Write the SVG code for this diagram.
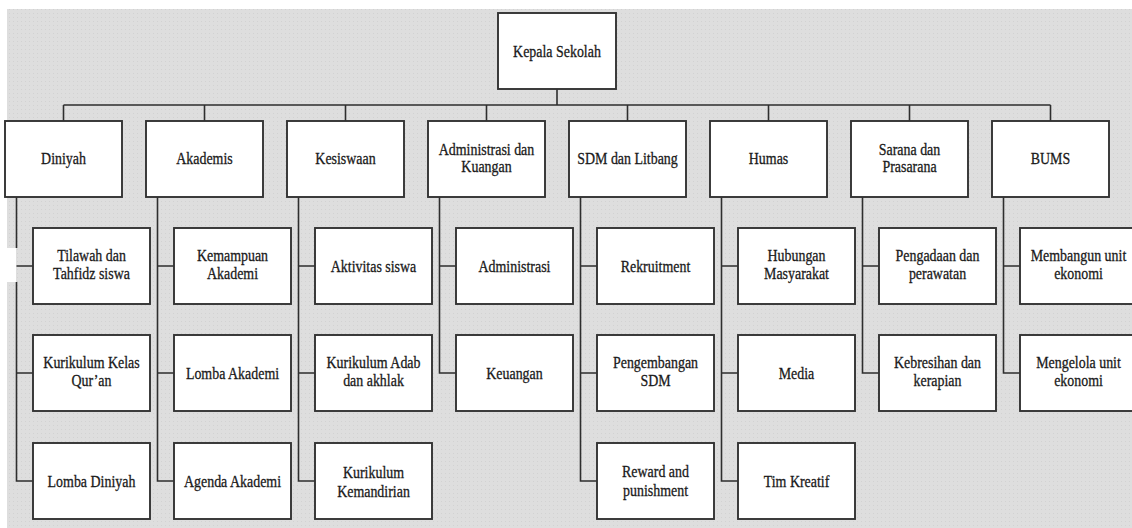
<svg xmlns="http://www.w3.org/2000/svg" width="1132" height="528" viewBox="0 0 1132 528">
<style>
.box{fill:#fff;stroke:#333;stroke-width:1.9}
.ln{stroke:#2e2e2e;stroke-width:1.6;fill:none}
.t{font-family:"Liberation Serif","Times New Roman",serif;font-size:17px;fill:#1a1a1a;stroke:#1a1a1a;stroke-width:0.3;text-anchor:middle}
</style>
<defs>
<pattern id="dots" width="4" height="4" patternUnits="userSpaceOnUse">
<rect width="4" height="4" fill="#dedede"/>
<rect x="1" y="1" width="1" height="1" fill="#d2d2d2"/>
</pattern>
</defs>
<rect width="1132" height="528" fill="#fff"/>
<rect x="7" y="9" width="1125" height="519" fill="url(#dots)"/>
<rect x="0" y="248" width="16" height="34" fill="#fff"/>

<g id="connectors">
<path class="ln" d="M557 89V105M63.5 105H1050.5"/>
<path class="ln" d="M63.5 105V121M204.5 105V121M345.5 105V121M486.5 105V121M627.5 105V121M768.5 105V121M909.5 105V121M1050.5 105V121"/>
<path class="ln" d="M16.5 197V248M16.5 282V481H33M16.5 266H33M16.5 373H33"/>
<path class="ln" d="M157.5 197V481H174M157.5 266H174M157.5 373H174"/>
<path class="ln" d="M298.5 197V481H315M298.5 266H315M298.5 373H315"/>
<path class="ln" d="M439.5 197V373H456M439.5 266H456"/>
<path class="ln" d="M580.5 197V481H597M580.5 266H597M580.5 373H597"/>
<path class="ln" d="M721.5 197V481H738M721.5 266H738M721.5 373H738"/>
<path class="ln" d="M862.5 197V373H879M862.5 266H879"/>
<path class="ln" d="M1003.5 197V373H1020M1003.5 266H1020"/>
</g>

<g id="kepala-sekolah"><rect class="box" x="498" y="13" width="118" height="76"/><text class="t" transform="translate(557,57) scale(0.82,1)">Kepala Sekolah</text></g>

<g id="diniyah"><rect class="box" x="5" y="121" width="117" height="76"/><text class="t" transform="translate(63.5,164) scale(0.82,1)">Diniyah</text></g>
<g id="akademis"><rect class="box" x="146" y="121" width="117" height="76"/><text class="t" transform="translate(204.5,164) scale(0.82,1)">Akademis</text></g>
<g id="kesiswaan"><rect class="box" x="287" y="121" width="117" height="76"/><text class="t" transform="translate(345.5,164) scale(0.82,1)">Kesiswaan</text></g>
<g id="administrasi-kuangan"><rect class="box" x="428" y="121" width="117" height="76"/><text class="t" transform="translate(486.5,155) scale(0.82,1)"><tspan x="0">Administrasi dan</tspan><tspan x="0" dy="17">Kuangan</tspan></text></g>
<g id="sdm-litbang"><rect class="box" x="569" y="121" width="117" height="76"/><text class="t" transform="translate(627.5,164) scale(0.82,1)">SDM dan Litbang</text></g>
<g id="humas"><rect class="box" x="710" y="121" width="117" height="76"/><text class="t" transform="translate(768.5,164) scale(0.82,1)">Humas</text></g>
<g id="sarana-prasarana"><rect class="box" x="851" y="121" width="117" height="76"/><text class="t" transform="translate(909.5,155) scale(0.82,1)"><tspan x="0">Sarana dan</tspan><tspan x="0" dy="17">Prasarana</tspan></text></g>
<g id="bums"><rect class="box" x="992" y="121" width="117" height="76"/><text class="t" transform="translate(1050.5,164) scale(0.82,1)">BUMS</text></g>

<g id="tilawah"><rect class="box" x="33" y="228" width="117" height="76"/><text class="t" transform="translate(91.5,261) scale(0.82,1)"><tspan x="0">Tilawah dan</tspan><tspan x="0" dy="18">Tahfidz siswa</tspan></text></g>
<g id="kurikulum-kelas"><rect class="box" x="33" y="335" width="117" height="76"/><text class="t" transform="translate(91.5,368) scale(0.82,1)"><tspan x="0">Kurikulum Kelas</tspan><tspan x="0" dy="18">Qur’an</tspan></text></g>
<g id="lomba-diniyah"><rect class="box" x="33" y="443" width="117" height="76"/><text class="t" transform="translate(91.5,487) scale(0.82,1)">Lomba Diniyah</text></g>

<g id="kemampuan"><rect class="box" x="174" y="228" width="117" height="76"/><text class="t" transform="translate(232.5,261) scale(0.82,1)"><tspan x="0">Kemampuan</tspan><tspan x="0" dy="18">Akademi</tspan></text></g>
<g id="lomba-akademi"><rect class="box" x="174" y="335" width="117" height="76"/><text class="t" transform="translate(232.5,379) scale(0.82,1)">Lomba Akademi</text></g>
<g id="agenda-akademi"><rect class="box" x="174" y="443" width="117" height="76"/><text class="t" transform="translate(232.5,487) scale(0.82,1)">Agenda Akademi</text></g>

<g id="aktivitas"><rect class="box" x="315" y="228" width="117" height="76"/><text class="t" transform="translate(373.5,272) scale(0.82,1)">Aktivitas siswa</text></g>
<g id="kurikulum-adab"><rect class="box" x="315" y="335" width="117" height="76"/><text class="t" transform="translate(373.5,368) scale(0.82,1)"><tspan x="0">Kurikulum Adab</tspan><tspan x="0" dy="18">dan akhlak</tspan></text></g>
<g id="kurikulum-kemandirian"><rect class="box" x="315" y="443" width="117" height="76"/><text class="t" transform="translate(373.5,478) scale(0.82,1)"><tspan x="0">Kurikulum</tspan><tspan x="0" dy="19">Kemandirian</tspan></text></g>

<g id="administrasi"><rect class="box" x="456" y="228" width="117" height="76"/><text class="t" transform="translate(514.5,272) scale(0.82,1)">Administrasi</text></g>
<g id="keuangan"><rect class="box" x="456" y="335" width="117" height="76"/><text class="t" transform="translate(514.5,379) scale(0.82,1)">Keuangan</text></g>

<g id="rekruitment"><rect class="box" x="597" y="228" width="117" height="76"/><text class="t" transform="translate(655.5,272) scale(0.82,1)">Rekruitment</text></g>
<g id="pengembangan"><rect class="box" x="597" y="335" width="117" height="76"/><text class="t" transform="translate(655.5,368) scale(0.82,1)"><tspan x="0">Pengembangan</tspan><tspan x="0" dy="18">SDM</tspan></text></g>
<g id="reward"><rect class="box" x="597" y="443" width="117" height="76"/><text class="t" transform="translate(655.5,477) scale(0.82,1)"><tspan x="0">Reward and</tspan><tspan x="0" dy="19">punishment</tspan></text></g>

<g id="hubungan"><rect class="box" x="738" y="228" width="117" height="76"/><text class="t" transform="translate(796.5,261) scale(0.82,1)"><tspan x="0">Hubungan</tspan><tspan x="0" dy="18">Masyarakat</tspan></text></g>
<g id="media"><rect class="box" x="738" y="335" width="117" height="76"/><text class="t" transform="translate(796.5,379) scale(0.82,1)">Media</text></g>
<g id="tim-kreatif"><rect class="box" x="738" y="443" width="117" height="76"/><text class="t" transform="translate(796.5,487) scale(0.82,1)">Tim Kreatif</text></g>

<g id="pengadaan"><rect class="box" x="879" y="228" width="117" height="76"/><text class="t" transform="translate(937.5,261) scale(0.82,1)"><tspan x="0">Pengadaan dan</tspan><tspan x="0" dy="18">perawatan</tspan></text></g>
<g id="kebresihan"><rect class="box" x="879" y="335" width="117" height="76"/><text class="t" transform="translate(937.5,368) scale(0.82,1)"><tspan x="0">Kebresihan dan</tspan><tspan x="0" dy="18">kerapian</tspan></text></g>

<g id="membangun"><rect class="box" x="1020" y="228" width="117" height="76"/><text class="t" transform="translate(1078.5,261) scale(0.82,1)"><tspan x="0">Membangun unit</tspan><tspan x="0" dy="18">ekonomi</tspan></text></g>
<g id="mengelola"><rect class="box" x="1020" y="335" width="117" height="76"/><text class="t" transform="translate(1078.5,368) scale(0.82,1)"><tspan x="0">Mengelola unit</tspan><tspan x="0" dy="18">ekonomi</tspan></text></g>
</svg>
